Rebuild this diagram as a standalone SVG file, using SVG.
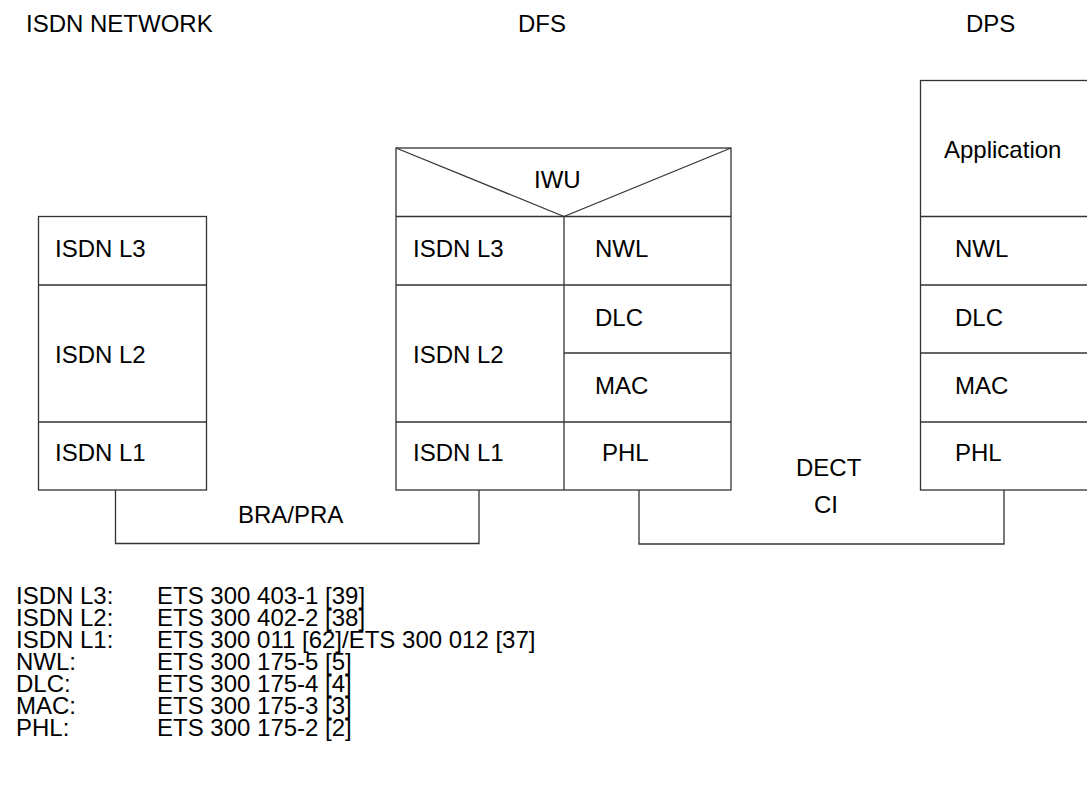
<svg xmlns="http://www.w3.org/2000/svg" width="1087" height="792" viewBox="0 0 1087 792">
<style>
text{font-family:"Liberation Sans",Arial,sans-serif;font-size:24px;fill:#000}
.b{fill:#fff;stroke:#333;stroke-width:1.3}
.l{fill:none;stroke:#333;stroke-width:1.3}
</style>
<rect width="1087" height="792" fill="#fff"/>
<g id="headers">
<text x="26" y="32">ISDN NETWORK</text>
<text x="518" y="32">DFS</text>
<text x="966" y="32">DPS</text>
</g>
<g id="isdn-network">
<rect class="b" x="38.5" y="216.5" width="168" height="273.5"/>
<line class="l" x1="38.5" y1="285" x2="206.5" y2="285"/>
<line class="l" x1="38.5" y1="422" x2="206.5" y2="422"/>
<text x="55" y="257">ISDN L3</text>
<text x="55" y="363">ISDN L2</text>
<text x="55" y="461">ISDN L1</text>
</g>
<g id="dfs">
<rect class="b" x="396" y="148" width="335" height="342"/>
<line class="l" x1="396" y1="216.5" x2="731" y2="216.5"/>
<line class="l" x1="396" y1="148" x2="564" y2="216.5"/>
<line class="l" x1="731" y1="148" x2="564" y2="216.5"/>
<line class="l" x1="564" y1="216.5" x2="564" y2="490"/>
<line class="l" x1="396" y1="285" x2="731" y2="285"/>
<line class="l" x1="564" y1="353" x2="731" y2="353"/>
<line class="l" x1="396" y1="422" x2="731" y2="422"/>
<text x="534" y="188">IWU</text>
<text x="413" y="257">ISDN L3</text>
<text x="413" y="363">ISDN L2</text>
<text x="413" y="461">ISDN L1</text>
<text x="595" y="257">NWL</text>
<text x="595" y="326">DLC</text>
<text x="595" y="394">MAC</text>
<text x="602" y="461">PHL</text>
</g>
<g id="dps">
<rect class="b" x="920.5" y="80.5" width="170" height="409.5"/>
<line class="l" x1="920.5" y1="216.5" x2="1090" y2="216.5"/>
<line class="l" x1="920.5" y1="285" x2="1090" y2="285"/>
<line class="l" x1="920.5" y1="353" x2="1090" y2="353"/>
<line class="l" x1="920.5" y1="422" x2="1090" y2="422"/>
<text x="944" y="158">Application</text>
<text x="955" y="257">NWL</text>
<text x="955" y="326">DLC</text>
<text x="955" y="394">MAC</text>
<text x="955" y="461">PHL</text>
</g>
<g id="connectors">
<polyline class="l" points="115.5,490 115.5,543.5 479,543.5 479,490"/>
<polyline class="l" points="639,490 639,544 1004,544 1004,490"/>
<text x="238" y="523">BRA/PRA</text>
<text x="796" y="476">DECT</text>
<text x="814" y="513">CI</text>
</g>
<g id="legend">
<text x="16" y="604">ISDN L3:</text><text x="157" y="604">ETS 300 403-1 [39]</text>
<text x="16" y="626">ISDN L2:</text><text x="157" y="626">ETS 300 402-2 [38]</text>
<text x="16" y="648">ISDN L1:</text><text x="157" y="648">ETS 300 011 [62]/ETS 300 012 [37]</text>
<text x="16" y="670">NWL:</text><text x="157" y="670">ETS 300 175-5 [5]</text>
<text x="16" y="692">DLC:</text><text x="157" y="692">ETS 300 175-4 [4]</text>
<text x="16" y="714">MAC:</text><text x="157" y="714">ETS 300 175-3 [3]</text>
<text x="16" y="736">PHL:</text><text x="157" y="736">ETS 300 175-2 [2]</text>
</g>
</svg>
